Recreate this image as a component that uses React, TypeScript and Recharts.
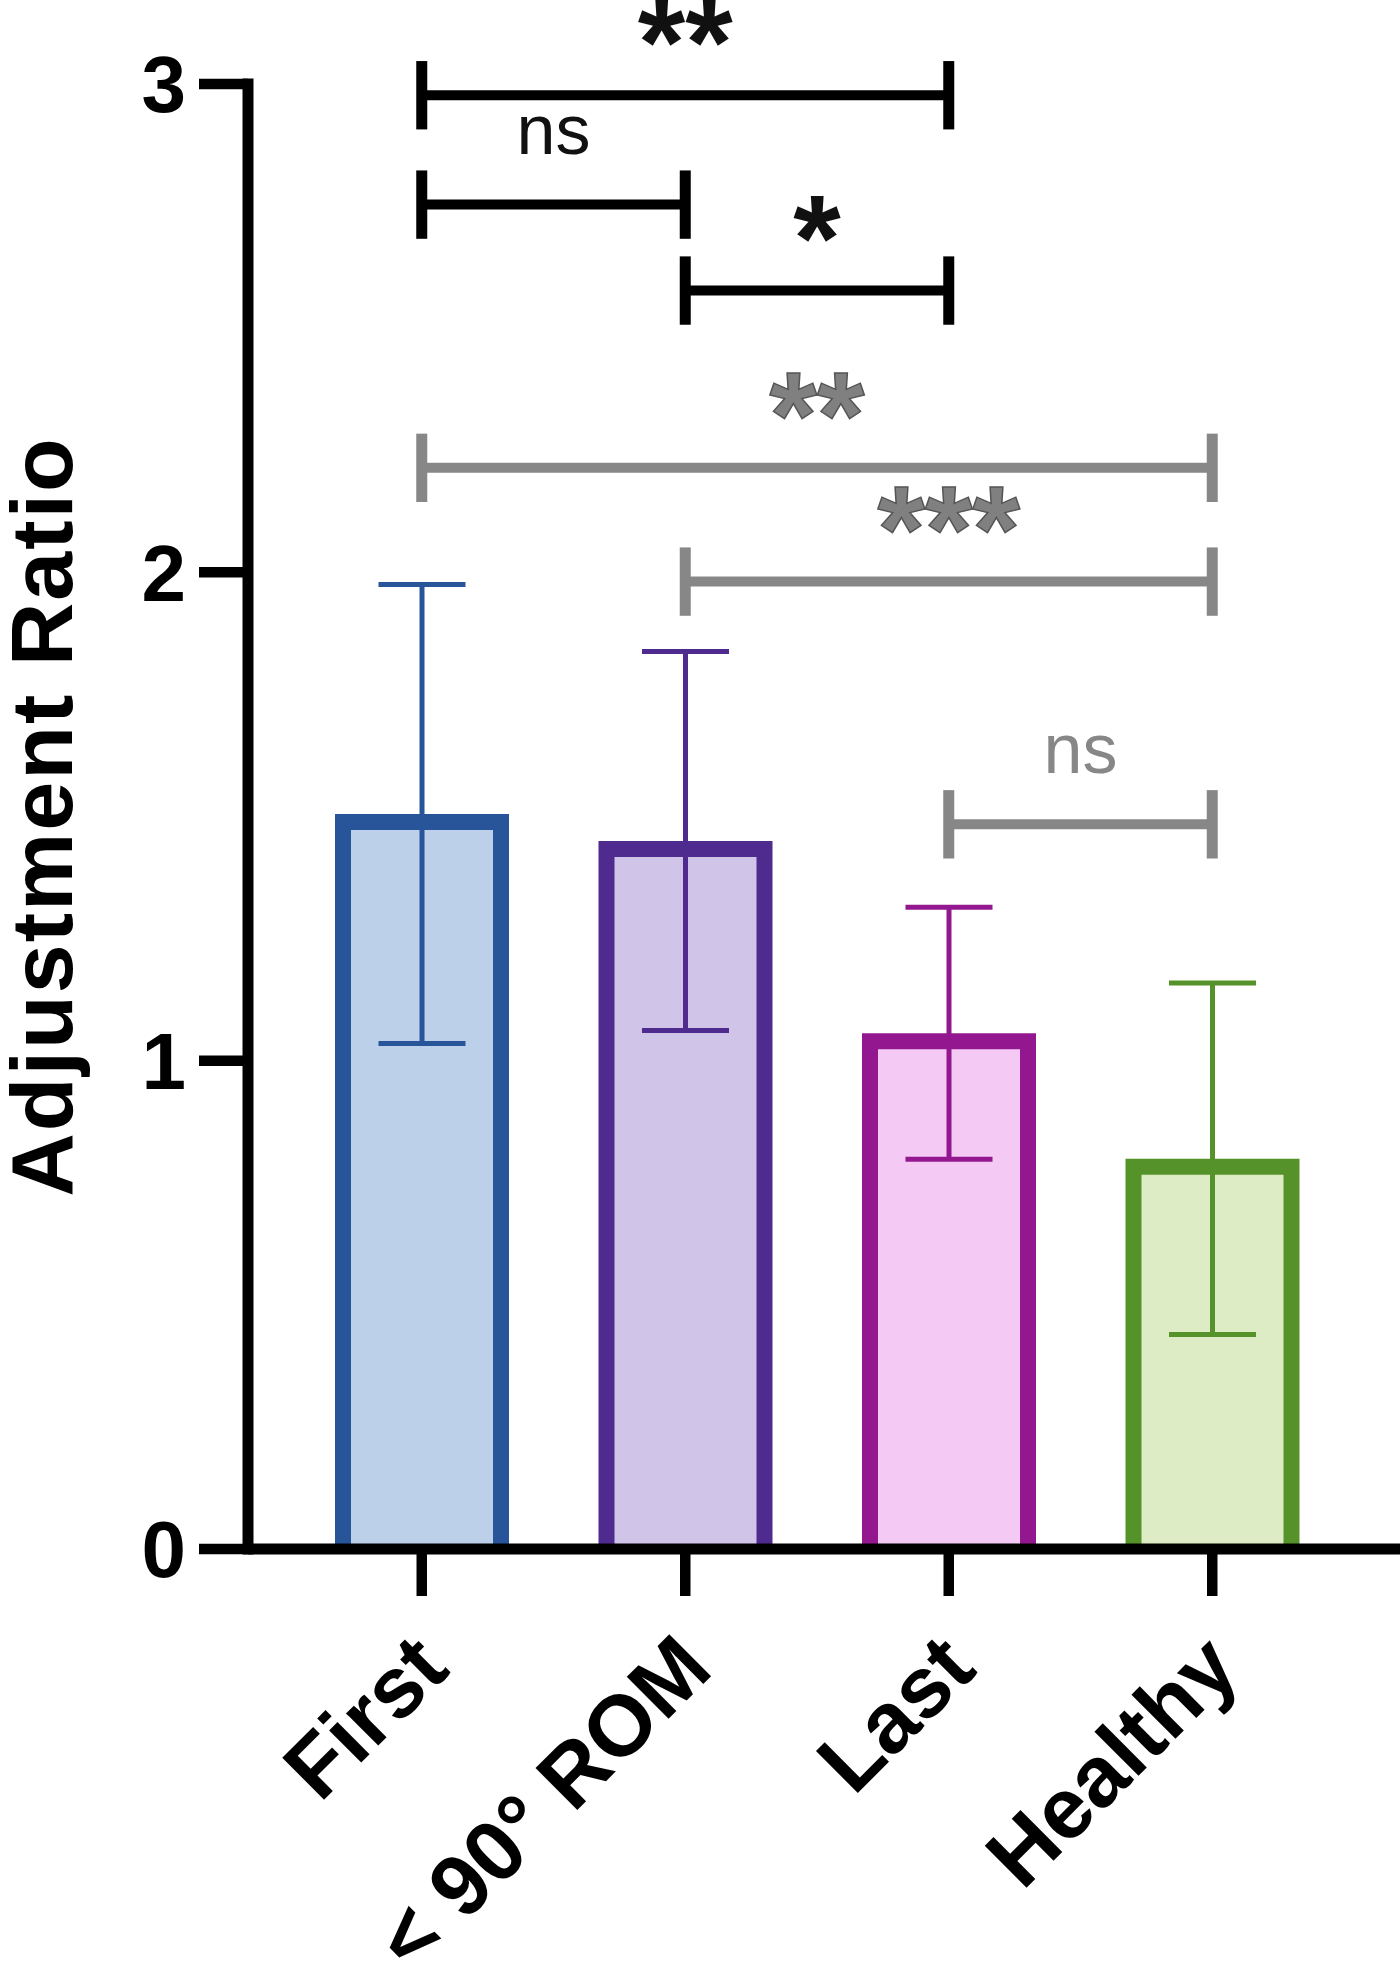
import { BarChart, Bar, XAxis, YAxis, ErrorBar, ReferenceLine } from "recharts";

const groups = ["First", "< 90° ROM", "Last", "Healthy"];
const means = [1.505, 1.45, 1.056, 0.799];
const sds = [0.47, 0.388, 0.258, 0.36];
const yTicks = [0, 1, 2, 3];

// significance brackets
const sigFrom = ["First", "First", "< 90° ROM", "First", "< 90° ROM", "Last"];
const sigTo = ["Last", "< 90° ROM", "Last", "Healthy", "Healthy", "Healthy"];
const sigY = [2.977, 2.753, 2.577, 2.214, 1.981, 1.484];
const sigText = ["**", "ns", "*", "**", "***", "ns"];
const sigGray = [false, false, false, true, true, true];

const strokes = ["#28559a", "#4f2b8f", "#93188f", "#55922a"];
const fills = ["#bdd0ea", "#d0c4e8", "#f4c9f4", "#ddecc4"];
const GRAY = "#878787";
const FONT = '"Liberation Sans", Arial, Helvetica, sans-serif';
const CAP = 0.07;
const BAR_W = 174;
const EDGE = 16;

const rows = groups.map((name, i) => {
  const row: Record<string, string | number> = { name };
  row[`m${i}`] = means[i];
  row[`e${i}`] = sds[i];
  return row;
});

// outline drawn inside the bar box, no bottom edge
function OutlinedBar(props: any) {
  const { x, y, width, height, fill, stroke } = props;
  if (![x, y, width, height].every((v) => Number.isFinite(v)) || height <= 0) return null;
  const h = EDGE / 2;
  const bottom = y + height;
  return (
    <g>
      <rect x={x + h} y={y + h} width={width - EDGE} height={height - h} fill={fill} />
      <path
        d={`M${x + h},${bottom} V${y + h} H${x + width - h} V${bottom}`}
        fill="none"
        stroke={stroke}
        strokeWidth={EDGE}
      />
    </g>
  );
}

function XTick({ x, y, payload }: any) {
  return (
    <g transform={`translate(${x + 30},${y + 74})`}>
      <text
        textAnchor="end"
        transform="rotate(-45)"
        fontSize={86}
        fontWeight={700}
        fontFamily={FONT}
        fill="#000"
      >
        {payload.value}
      </text>
    </g>
  );
}

function YLabel({ viewBox }: any) {
  const cx = 72;
  const cy = viewBox.y + viewBox.height / 2;
  return (
    <text
      x={cx}
      y={cy}
      transform={`rotate(-90, ${cx}, ${cy})`}
      textAnchor="middle"
      fontSize={88}
      fontWeight={700}
      letterSpacing={2}
      fontFamily={FONT}
      fill="#000"
    >
      Adjustment Ratio
    </text>
  );
}

export default function App() {
  return (
    <div style={{ width: 1400, height: 1962, background: "#fff" }}>
      <style>{"body{margin:0}"}</style>
      <BarChart
        width={1400}
        height={1962}
        data={rows}
        margin={{ top: 84, right: 0, bottom: 113, left: 0 }}
        barGap={-BAR_W}
      >
        <XAxis
          dataKey="name"
          height={300}
          interval={0}
          padding={{ left: 42, right: 56 }}
          axisLine={{ stroke: "#000", strokeWidth: 11 }}
          tickLine={{ stroke: "#000", strokeWidth: 10.5 }}
          tickSize={47}
          tick={<XTick />}
        />
        <YAxis
          domain={[0, 3]}
          ticks={yTicks}
          width={248}
          axisLine={{ stroke: "#000", strokeWidth: 11, strokeLinecap: "square" }}
          tickLine={{ stroke: "#000", strokeWidth: 10.5 }}
          tickSize={49}
          tickMargin={13}
          tick={{ fill: "#000", fontSize: 80, fontWeight: 700, fontFamily: FONT }}
          label={<YLabel />}
        />
        {groups.map((g, i) => (
          <Bar
            key={g}
            dataKey={`m${i}`}
            fill={fills[i]}
            stroke={strokes[i]}
            barSize={BAR_W}
            shape={(p: any) => <OutlinedBar {...p} />}
            isAnimationActive={false}
          >
            <ErrorBar
              dataKey={`e${i}`}
              direction="y"
              width={43.5}
              strokeWidth={5}
              stroke={strokes[i]}
              isAnimationActive={false}
            />
          </Bar>
        ))}
        {sigText.map((t, i) => {
          const col = sigGray[i] ? GRAY : "#000";
          const star = t.includes("*");
          return [
            <ReferenceLine
              key={`h${i}`}
              segment={[
                { x: sigFrom[i], y: sigY[i] },
                { x: sigTo[i], y: sigY[i] },
              ]}
              stroke={col}
              strokeWidth={10}
              ifOverflow="visible"
              label={{
                value: t,
                position: "top",
                offset: star ? 11 : 51,
                fill: star && sigGray[i] ? "#808080" : sigGray[i] ? GRAY : "#111",
                stroke: star && sigGray[i] ? "#555" : "none",
                strokeWidth: 1.5,
                fontSize: star ? 122 : 70,
                fontWeight: star ? 700 : 400,
                fontFamily: FONT,
              }}
            />,
            <ReferenceLine
              key={`a${i}`}
              segment={[
                { x: sigFrom[i], y: sigY[i] - CAP },
                { x: sigFrom[i], y: sigY[i] + CAP },
              ]}
              stroke={col}
              strokeWidth={11}
              ifOverflow="visible"
            />,
            <ReferenceLine
              key={`b${i}`}
              segment={[
                { x: sigTo[i], y: sigY[i] - CAP },
                { x: sigTo[i], y: sigY[i] + CAP },
              ]}
              stroke={col}
              strokeWidth={11}
              ifOverflow="visible"
            />,
          ];
        })}
      </BarChart>
    </div>
  );
}
